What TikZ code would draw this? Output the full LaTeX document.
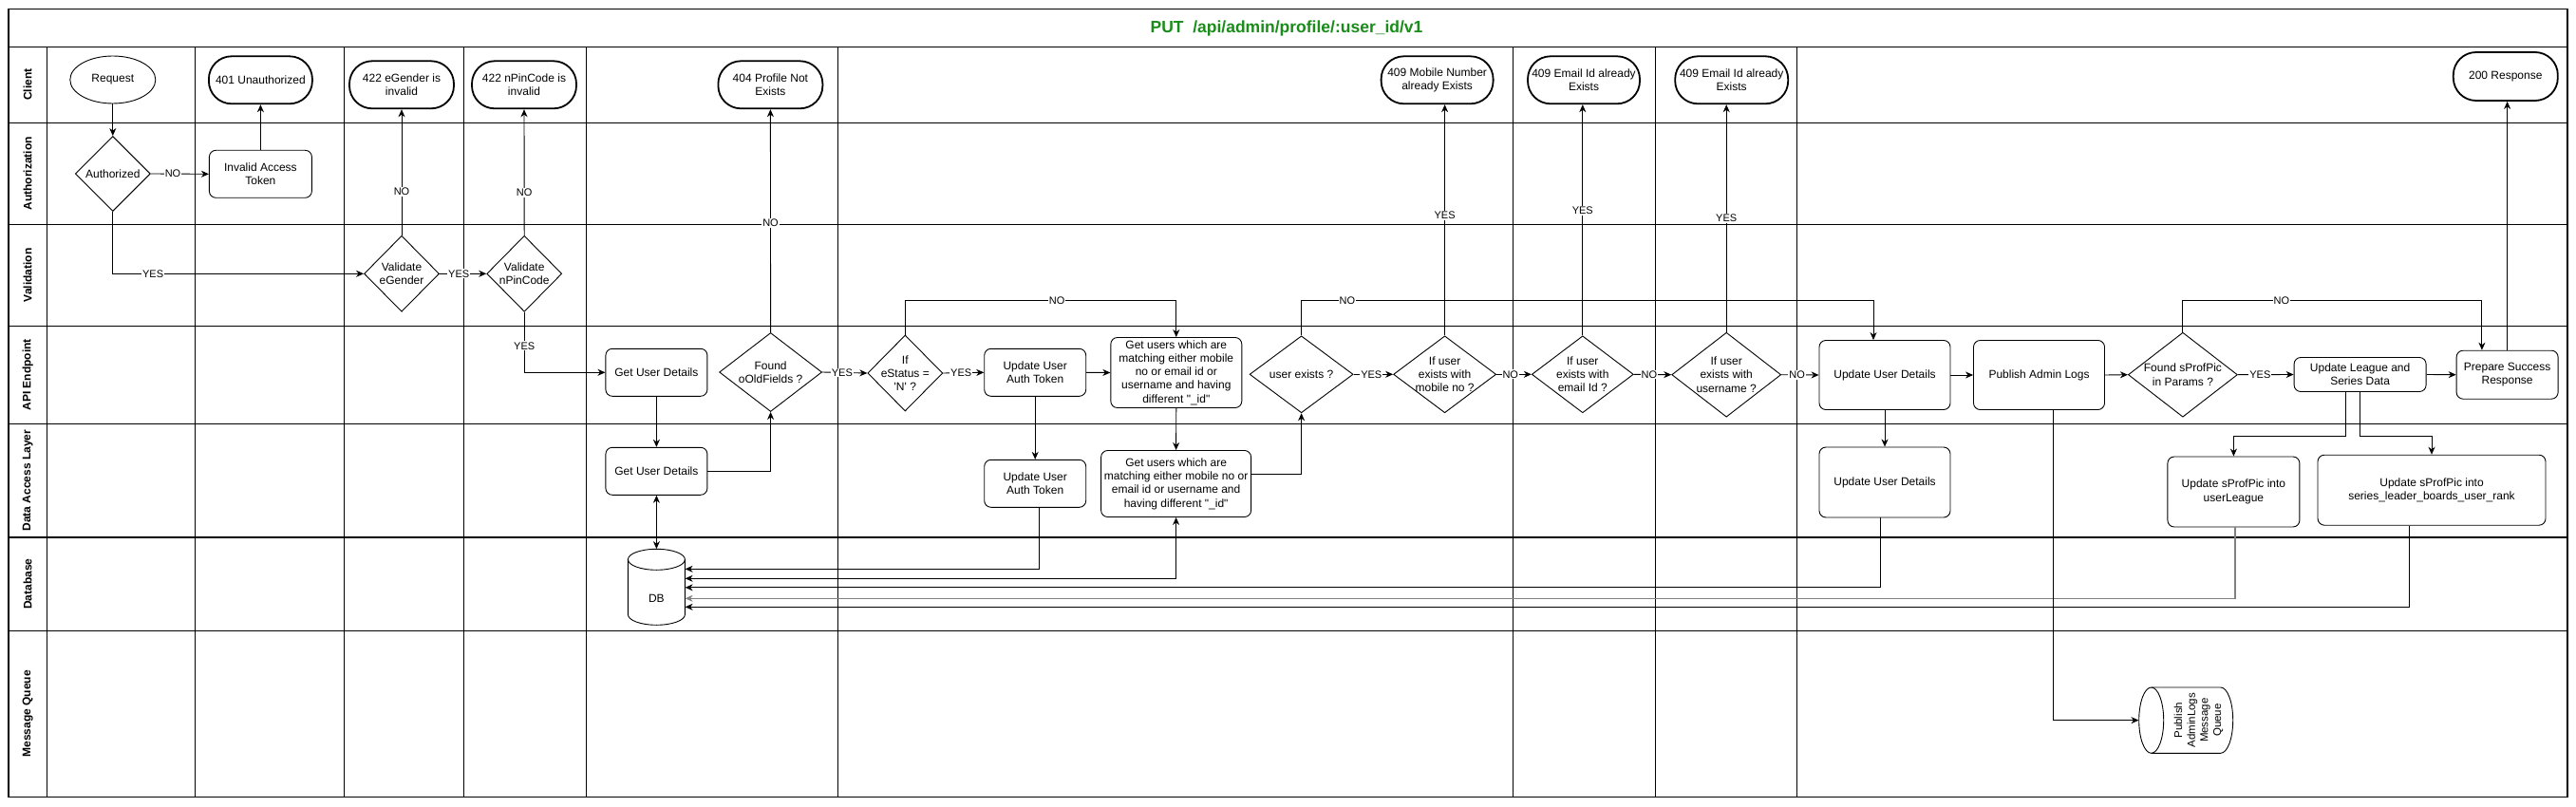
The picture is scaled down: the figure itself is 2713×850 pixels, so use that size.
\documentclass[tikz,border=0pt]{standalone}
\usepackage{fontspec}
\setmainfont{Liberation Sans}
\usetikzlibrary{arrows.meta,shapes.geometric,calc}
\definecolor{titlegreen}{RGB}{26,140,26}
\definecolor{linegray}{RGB}{128,128,128}
\begin{document}
\begin{tikzpicture}[x=1pt,y=-1pt,
  >={Stealth[length=8pt,width=7pt,inset=2.5pt]},
  txt/.style={font=\fontsize{12}{14.3}\selectfont, align=center},
  term/.style={txt, draw, line width=1.8pt, rounded corners=24pt, fill=white, inner sep=0pt},
  rbox/.style={txt, draw, line width=0.9pt, rounded corners=7pt, fill=white, inner sep=0pt},
  oval/.style={txt, draw, ellipse, line width=0.9pt, fill=white, inner sep=0pt},
  dia/.style={draw, diamond, line width=0.9pt, fill=white, inner sep=0pt},
  dlab/.style={txt, inner sep=0pt},
  lane/.style={rotate=90, font=\bfseries\fontsize{12}{14}\selectfont},
  lanegrid/.style={line width=1.2pt},
  colgrid/.style={line width=0.8pt},
  conn/.style={draw, line width=0.9pt, ->},
  lbl/.style={fill=white, inner sep=1pt, font=\fontsize{11}{13}\selectfont},
]
\useasboundingbox (0,0) rectangle (2713,850);
\fill[white] (0,0) rectangle (2713,850);

% ---------- grid ----------
\draw[lanegrid] (9,9.3) rectangle (2704,839.3);
\foreach \y in {49.3,129.3,236.3,343.3,446.3,566,664.3}
  \draw[lanegrid] (9,\y) -- (2704,\y);
\foreach \x in {49.4,205.5,362.2,488.5,617.6,882,1593.3,1743.7,1892.5}
  \draw[colgrid] (\x,49.3) -- (\x,839.3);

\node[font=\bfseries\fontsize{17.5}{20}\selectfont, text=titlegreen] (title) at (1355,30) {PUT\ \ /api/admin/profile/:user\_id/v1};

\node[lane] (lane1) at (29.2,89.3) {Client};
\node[lane] (lane2) at (29.2,182.8) {Authorization};
\node[lane] (lane3) at (29.2,289.8) {Validation};
\node[lane] (lane4) at (29.2,394.8) {API Endpoint};
\node[lane] (lane5) at (29.2,506.2) {Data Access Layer};
\node[lane] (lane6) at (29.2,615.2) {Database};
\node[lane] (lane7) at (29.2,751.8) {Message Queue};

% ---------- client lane ----------
\node[oval, minimum width=90pt, minimum height=50pt] (req) at (118.8,84) {Request};
\node[term, minimum width=109pt, minimum height=50pt] (t401) at (274.4,84.3) {401 Unauthorized};
\node[term, minimum width=110pt, minimum height=50pt] (t422g) at (423,89.3) {422 eGender is\\invalid};
\node[term, minimum width=110pt, minimum height=50pt] (t422p) at (552,89.3) {422 nPinCode is\\invalid};
\node[term, minimum width=110pt, minimum height=50pt] (t404) at (811.4,89.3) {404 Profile Not\\Exists};
\node[term, minimum width=118pt, minimum height=50pt] (t409m) at (1513.6,84.3) {409 Mobile Number\\already Exists};
\node[term, minimum width=118pt, minimum height=50pt] (t409e1) at (1668,84.3) {409 Email Id already\\Exists};
\node[term, minimum width=119pt, minimum height=50pt] (t409e2) at (1823.7,84.3) {409 Email Id already\\Exists};
\node[term, minimum width=110pt, minimum height=51pt] (t200) at (2638.8,80.5) {200 Response};

% ---------- authorization / validation ----------
\node[dia, minimum width=79pt, minimum height=79pt, label={[dlab]center:Authorized}] (auth) at (118.8,183) {};
\node[rbox, minimum width=108pt, minimum height=50pt] (iat) at (274.4,183.3) {Invalid Access\\Token};
\node[dia, minimum width=79pt, minimum height=80pt, label={[dlab]center:{Validate\\eGender}}] (veg) at (423,288.3) {};
\node[dia, minimum width=79pt, minimum height=80pt, label={[dlab]center:{Validate\\nPinCode}}] (vpc) at (552.2,288.3) {};

% ---------- API endpoint ----------
\node[rbox, minimum width=107pt, minimum height=50pt] (gudA) at (691.4,392.3) {Get User Details};
\node[dia, minimum width=108pt, minimum height=83pt, label={[dlab]center:{Found\\oOldFields ?}}] (fof) at (811.6,392) {};
\node[dia, minimum width=79pt, minimum height=80pt, label={[dlab]center:{If\\eStatus =\\\textquotesingle N\textquotesingle\ ?}}] (est) at (953.3,393) {};
\node[rbox, minimum width=107pt, minimum height=50pt] (uatA) at (1090.2,392.3) {Update User\\Auth Token};
\node[rbox, minimum width=138pt, minimum height=74pt] (guA) at (1238.8,392.5) {Get users which are\\matching either mobile\\no or email id or\\username and having\\different \textquotedbl\_id\textquotedbl};
\node[dia, minimum width=109pt, minimum height=81pt, label={[dlab]center:user exists ?}] (uex) at (1370.6,394.3) {};
\node[dia, minimum width=108pt, minimum height=81pt, label={[dlab]center:{If user\\exists with\\mobile no ?}}] (dmob) at (1521.6,394.3) {};
\node[dia, minimum width=107pt, minimum height=81pt, label={[dlab]center:{If user\\exists with\\email Id ?}}] (deml) at (1666.8,394.3) {};
\node[dia, minimum width=115pt, minimum height=89pt, label={[dlab]center:{If user\\exists with\\username ?}}] (dusr) at (1818.2,394.7) {};
\node[rbox, minimum width=138pt, minimum height=73pt] (uudA) at (1985,395) {Update User Details};
\node[rbox, minimum width=138pt, minimum height=73pt] (pal) at (2147.5,395) {Publish Admin Logs};
\node[dia, minimum width=115pt, minimum height=89pt, label={[dlab]center:{Found sProfPic\\in Params ?}}] (fsp) at (2298.9,394.7) {};
\node[rbox, minimum width=139pt, minimum height=36pt] (uls) at (2485.6,394.5) {Update League and\\Series Data};
\node[rbox, minimum width=107pt, minimum height=51pt] (psr) at (2640.6,394.7) {Prepare Success\\Response};

% ---------- data access layer ----------
\node[rbox, minimum width=107pt, minimum height=50pt] (gudD) at (691.4,496.3) {Get User Details};
\node[rbox, minimum width=107pt, minimum height=50pt] (uatD) at (1090.2,509.3) {Update User\\Auth Token};
\node[rbox, minimum width=158pt, minimum height=70pt] (guD) at (1238.6,509.5) {Get users which are\\matching either mobile no or\\email id or username and\\having different \textquotedbl\_id\textquotedbl};
\node[rbox, minimum width=138pt, minimum height=74pt] (uudD) at (1985,508) {Update User Details};
\node[rbox, minimum width=139pt, minimum height=74pt] (upl) at (2352.4,518) {Update sProfPic into\\userLeague};
\node[rbox, minimum width=240pt, minimum height=74pt] (ups) at (2561,516.2) {Update sProfPic into\\series\_leader\_boards\_user\_rank};

% ---------- database ----------
\node[minimum width=60pt, minimum height=80pt, inner sep=0pt] (db) at (691.4,618.3) {};
\draw[line width=0.9pt, fill=white] (661.4,589.3) -- (661.4,647.3)
  arc[start angle=180, end angle=360, x radius=30pt, y radius=11pt] -- (721.4,589.3)
  arc[start angle=0, end angle=180, x radius=30pt, y radius=11pt];
\draw[line width=0.9pt] (661.4,589.3) arc[start angle=180, end angle=360, x radius=30pt, y radius=11pt];
\node[txt] (dbt) at (691.4,630) {DB};

% ---------- message queue ----------
\node[minimum width=99pt, minimum height=69.3pt, inner sep=0pt] (mq) at (2302.2,758.65) {};
\draw[line width=0.9pt, fill=white] (2265.7,724) -- (2338.7,724)
  arc[start angle=90, end angle=-90, x radius=13pt, y radius=34.65pt] -- (2265.7,793.3)
  arc[start angle=270, end angle=90, x radius=13pt, y radius=34.65pt];
\draw[line width=0.9pt] (2265.7,724) arc[start angle=90, end angle=-90, x radius=13pt, y radius=34.65pt];
\node[rotate=90, align=center, font=\fontsize{11.5}{13.7}\selectfont] (mqt) at (2315.5,758.65) {Publish\\AdminLogs\\Message\\Queue};

% ---------- helper coordinates ----------
\coordinate (busA) at (0,316.3);
\coordinate (dal) at (0,459.3);
\coordinate (l1) at (0,599.3);
\coordinate (l2) at (0,609.3);
\coordinate (l3) at (0,618.8);
\coordinate (l4) at (0,630.3);
\coordinate (l5) at (0,639.3);
\coordinate (uudIn) at ([xshift=-12pt]uudA.north);
\coordinate (psrIn) at ([xshift=-26.7pt]psr.north);
\coordinate (guOut) at ([yshift=10.2pt]guD.east);
\coordinate (uatOut) at ([xshift=4.3pt]uatD.south);
\coordinate (uudOut) at ([xshift=-4.6pt]uudD.south);
\coordinate (uplOut) at ([xshift=1.8pt]upl.south);
\coordinate (upsOut) at ([xshift=-23.9pt]ups.south);
\coordinate (palOut) at ([xshift=14.5pt]pal.south);
\coordinate (ulsA) at ([xshift=-15.4pt]uls.south);
\coordinate (ulsB) at (uls.south);

% ---------- connectors ----------
\draw[conn] (req.south) -- (auth.north);
\draw[conn] (auth.east) -- node[lbl, pos=0.38] {NO} (iat.west);
\draw[conn] (iat.north) -- (t401.south);
\draw[conn] (auth.south) |- node[lbl, pos=0.58] {YES} (veg.west);
\draw[conn] (veg.north) -- node[lbl, pos=0.345] {NO} (t422g.south);
\draw[conn] (veg.east) -- node[lbl, pos=0.41] {YES} (vpc.west);
\draw[conn] (vpc.north) -- node[lbl, pos=0.34] {NO} (t422p.south);
\draw[conn] (vpc.south) |- node[lbl, pos=0.28] {YES} (gudA.west);
\draw[conn] (gudA.south) -- (gudD.north);
\draw[conn, <->] (gudD.south) -- (db.north);
\draw[conn] (gudD.east) -| (fof.south);
\draw[conn] (fof.north) -- node[lbl, pos=0.49] {NO} (t404.south);
\draw[conn] (fof.east) -- node[lbl, pos=0.44] {YES} (est.west);
\draw[conn] (est.east) -- node[lbl, pos=0.44] {YES} (uatA.west);
\draw[conn] (est.north) -- (est.north |- busA) -- node[lbl, pos=0.56] {NO} (guA.north |- busA) -- (guA.north);
\draw[conn] (uatA.east) -- (guA.west);
\draw[conn] (uatA.south) -- (uatD.north);
\draw[conn] (guA.south) -- (guD.north);
\draw[conn] (guOut) -| (uex.south);
\draw[conn] (uatOut) |- (db.east |- l1);
\draw[conn, <->] (guD.south) |- (db.east |- l2);
\draw[conn] (uudOut) |- (db.east |- l3);
\draw[conn, draw=linegray, line width=1.5pt] (uplOut) |- (db.east |- l4);
\draw[conn] (upsOut) |- (db.east |- l5);
\draw[conn] (uex.east) -- node[lbl, pos=0.45] {YES} (dmob.west);
\draw[conn] (dmob.north) -- node[lbl, pos=0.52] {YES} (dmob.north |- t409m.south);
\draw[conn] (dmob.east) -- node[lbl, pos=0.4] {NO} (deml.west);
\draw[conn] (deml.north) -- node[lbl, pos=0.54] {YES} (deml.north |- t409e1.south);
\draw[conn] (deml.east) -- node[lbl, pos=0.41] {NO} (dusr.west);
\draw[conn] (dusr.north) -- node[lbl, pos=0.5] {YES} (dusr.north |- t409e2.south);
\draw[conn] (dusr.east) -- node[lbl, pos=0.42] {NO} (uudA.west);
\draw[conn] (uex.north) -- (uex.north |- busA) -- node[lbl, pos=0.08] {NO} (uudIn |- busA) -- (uudIn);
\draw[conn] (uudA.east) -- (pal.west);
\draw[conn] (uudA.south) -- (uudD.north);
\draw[conn] (pal.east) -- (fsp.west);
\draw[conn] (palOut) |- (mq.west);
\draw[conn] (fsp.east) -- node[lbl, pos=0.4] {YES} (uls.west);
\draw[conn] (fsp.north) -- (fsp.north |- busA) -- node[lbl, pos=0.33] {NO} (psrIn |- busA) -- (psrIn);
\draw[conn] (uls.east) -- (psr.west);
\draw[conn] (ulsA) -- (ulsA |- dal) -| (upl.north);
\draw[conn] (ulsB) -- (ulsB |- dal) -| (ups.north);
\draw[conn] (psr.north) -- (psr.north |- t200.south);
\end{tikzpicture}
\end{document}
